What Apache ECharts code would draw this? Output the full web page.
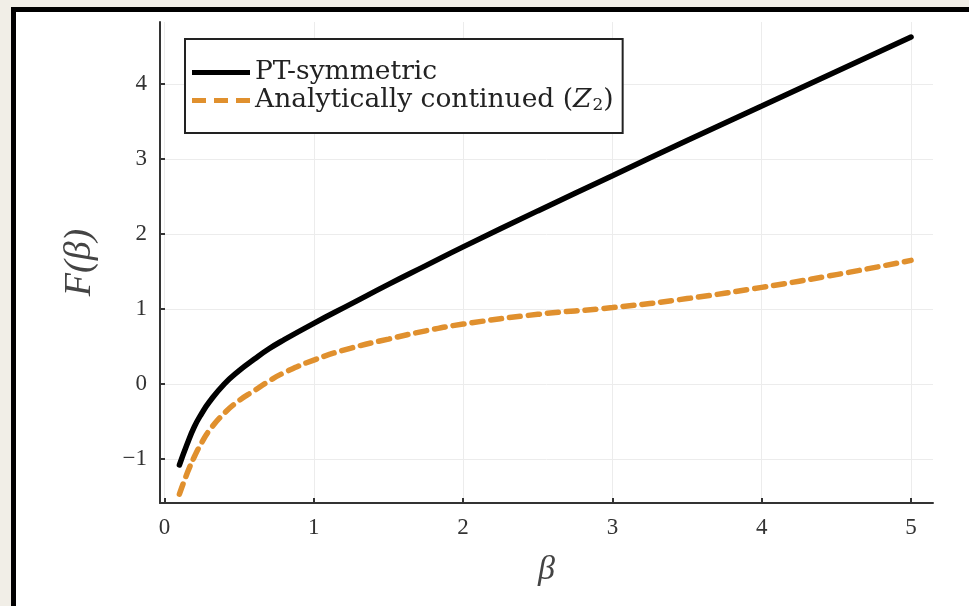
<!DOCTYPE html>
<html>
<head>
<meta charset="utf-8">
<script src="https://cdn.jsdelivr.net/npm/echarts/dist/echarts.min.js"></script>
<style>
  html, body { margin: 0; padding: 0; background: #f1eee7; }
  #frame {
    position: absolute; left: 11px; top: 7px;
    width: 1000px; height: 700px;
    border: 5px solid #000; background: #fff;
  }
  #chart { position: absolute; left: 0; top: 0; width: 969px; height: 606px; }
</style>
</head>
<body>
<div id="frame"></div>
<div id="chart"></div>
<script>
// beta grid and the two curves
const betas = [0.1, 0.15, 0.2, 0.25, 0.3, 0.4, 0.5, 0.6, 0.7, 0.8, 1.0, 1.25, 1.5, 1.75, 2.0, 2.5, 3.0, 3.5, 4.0, 4.5, 5.0];
const ptSymmetric = [-1.08, -0.81, -0.57, -0.39, -0.24, 0.0, 0.18, 0.33, 0.47, 0.59, 0.81, 1.07, 1.33, 1.58, 1.83, 2.31, 2.78, 3.25, 3.71, 4.17, 4.63];
const analyticZ2 = [-1.47, -1.2, -0.97, -0.78, -0.62, -0.39, -0.22, -0.09, 0.04, 0.15, 0.32, 0.48, 0.6, 0.71, 0.8, 0.93, 1.02, 1.14, 1.29, 1.46, 1.65];
const xTicks = [0, 1, 2, 3, 4, 5];
const yTicks = [-1, 0, 1, 2, 3, 4];

const serif = '"Liberation Serif", "DejaVu Serif", serif';
const legendSerif = '"DejaVu Serif", "Liberation Serif", serif';
const orange = '#e0902e';
const myChart = echarts.init(document.getElementById('chart'));

const toPairs = (ys) => betas.map((b, i) => [b, ys[i]]);

const option = {
  animation: false,
  backgroundColor: 'transparent',
  grid: { left: 160, right: 36, top: 22, bottom: 103 },
  legend: {
    orient: 'vertical',
    left: 185,
    top: 39,
    padding: [20, 9, 19, 7],
    itemGap: 1,
    itemWidth: 58,
    itemHeight: 5,
    borderColor: '#222',
    borderWidth: 2,
    borderRadius: 0,
    backgroundColor: '#fff',
    textStyle: {
      fontFamily: legendSerif,
      fontSize: 26.5,
      color: '#222',
      rich: {
        z: { fontFamily: legendSerif, fontStyle: 'italic', fontSize: 26.5, color: '#222' },
        s: { fontFamily: legendSerif, fontSize: 17, color: '#222', verticalAlign: 'bottom', padding: [10, 0, 0, 1] }
      }
    },
    formatter: (name) => name === 'z2' ? 'Analytically continued ({z|Z}{s|2})' : name,
    data: [
      { name: 'PT-symmetric', icon: 'path://M0,0 L58,0 L58,5 L0,5 Z', itemStyle: { color: '#000', borderWidth: 0 } },
      {
        name: 'z2',
        icon: 'path://M0,0 L14,0 L14,5 L0,5 Z M22,0 L36,0 L36,5 L22,5 Z M44,0 L58,0 L58,5 L44,5 Z',
        itemStyle: { color: orange, borderWidth: 0 }
      }
    ]
  },
  xAxis: {
    type: 'value',
    min: -0.03,
    max: 5.147,
    name: 'β',
    nameLocation: 'middle',
    nameGap: 50,
    nameTextStyle: { fontFamily: serif, fontStyle: 'italic', fontSize: 34, color: '#444' },
    axisLine: { onZero: false, lineStyle: { color: '#333', width: 2 } },
    axisTick: { inside: true, length: 5, lineStyle: { color: '#333', width: 2 }, customValues: xTicks },
    axisLabel: { fontFamily: serif, fontSize: 23, color: '#333', margin: 13, customValues: xTicks },
    splitLine: { show: true, lineStyle: { color: '#ececec', width: 1 } }
  },
  yAxis: {
    type: 'value',
    min: -1.587,
    max: 4.83,
    name: 'F(β)',
    nameLocation: 'middle',
    nameGap: 61,
    nameTextStyle: { fontFamily: serif, fontStyle: 'italic', fontSize: 38, color: '#444' },
    axisLine: { show: true, onZero: false, lineStyle: { color: '#333', width: 2 } },
    axisTick: { show: true, inside: true, length: 5, lineStyle: { color: '#333', width: 2 }, customValues: yTicks },
    axisLabel: {
      fontFamily: serif, fontSize: 23, color: '#333', margin: 13, customValues: yTicks,
      formatter: (v) => String(v).replace('-', '\u2212')
    },
    splitLine: { show: true, lineStyle: { color: '#ececec', width: 1 } }
  },
  series: [
    {
      name: 'PT-symmetric',
      type: 'line',
      smooth: true,
      showSymbol: false,
      data: toPairs(ptSymmetric),
      lineStyle: { color: '#000', width: 5.5, cap: 'round' },
      itemStyle: { color: '#000' },
      z: 3
    },
    {
      name: 'z2',
      type: 'line',
      smooth: true,
      showSymbol: false,
      data: toPairs(analyticZ2),
      lineStyle: { color: orange, width: 5.5, type: [11, 8], cap: 'round' },
      itemStyle: { color: orange },
      z: 2
    }
  ]
};
myChart.setOption(option);
</script>
</body>
</html>
